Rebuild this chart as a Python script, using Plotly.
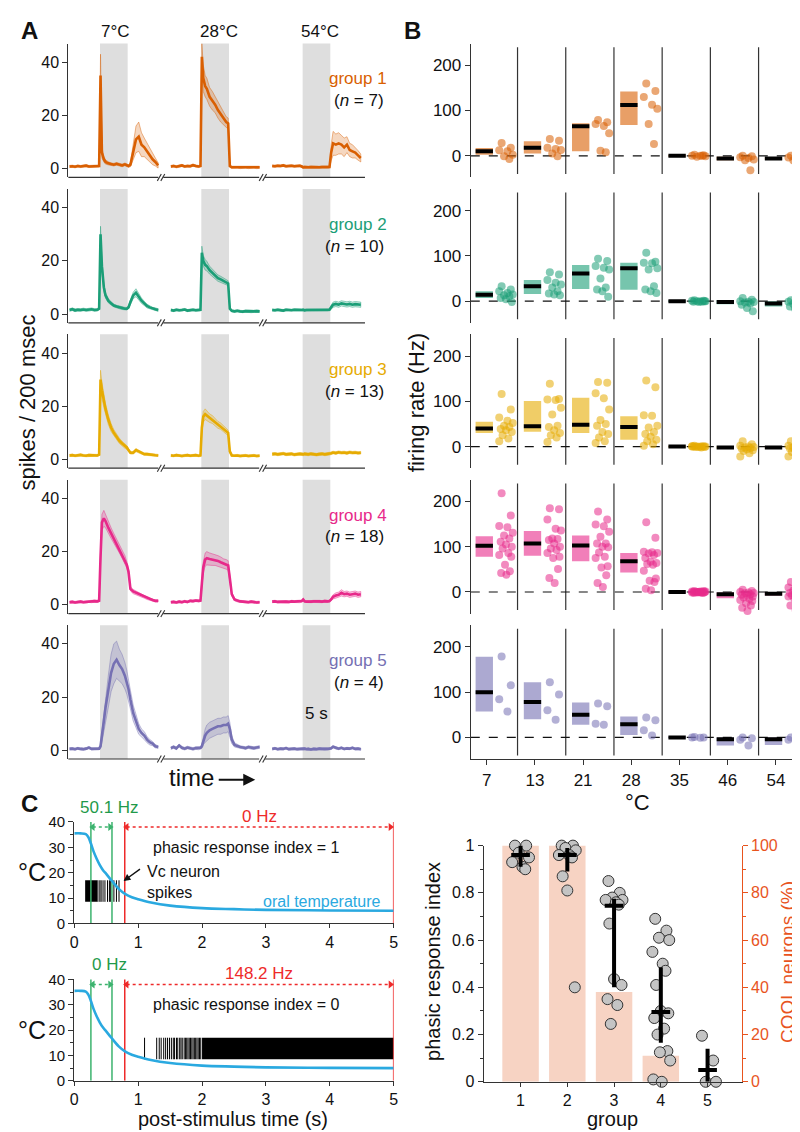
import plotly.graph_objects as go

W, H = 800, 1132
FONT = "Liberation Sans, Arial, Helvetica, sans-serif"


def px(x):
    return x / W


def py(y):
    return 1 - y / H


def sfx(n):
    return "" if n == 1 else str(n)


def rgba(hexc, a):
    h = hexc.lstrip('#')
    return "rgba(%d,%d,%d,%s)" % (int(h[0:2], 16), int(h[2:4], 16), int(h[4:6], 16), a)


# ------------------------------------------------------------------ data A
T = [-5.5, -5, -4.5, -4, -3.5, -3, -2.5, -2, -1.5, -1, -0.5, -0.15, 0.1, 0.35, 0.7, 1, 1.5, 2, 2.5, 3,
     3.5, 4, 4.5, 4.85, 5.15, 5.5, 6, 6.5, 7, 7.5, 8, 8.5, 9, 9.5, 10, 10.5]
SEG_TEMPS = ["7°C", "28°C", "54°C"]
SEG_OFFSET = [0, 18.3, 36.6]
STIM_ON, STIM_OFF = 0, 5
GROUP_LABELS = ["group 1", "group 2", "group 3", "group 4", "group 5"]
GROUP_N = [7, 10, 13, 18, 4]
COLORS = ["#d95f02", "#1b9e77", "#e6ab02", "#e7298a", "#7570b3"]

G1_7_MEAN = [0.8, 0.9, 0.7, 1.0, 0.8, 0.9, 1.1, 0.8, 0.9, 0.8, 1.0, 1.0, 35, 6, 3.5, 2.5, 2.0, 1.6, 1.5, 1.8,
             1.5, 1.2, 1.6, 1.2, 1.0, 1.5, 6, 11, 12, 9, 8, 6.5, 5, 3.5, 2.5, 1.2]
G1_7_SEM = [0.4, 0.4, 0.4, 0.4, 0.4, 0.4, 0.4, 0.4, 0.4, 0.4, 0.4, 0.4, 8, 2, 1, 0.8, 0.6, 0.5, 0.5, 0.5,
            0.5, 0.5, 0.5, 0.5, 0.5, 0.8, 2.5, 5, 5.5, 4.5, 3.5, 3, 2.5, 2, 1.5, 1]
G1_28_MEAN = [0.8, 1.0, 0.7, 0.9, 1.2, 0.8, 1.0, 0.9, 1.3, 1.0, 0.8, 1.0, 42, 34, 31, 30, 27, 25.5, 24, 22,
              20.5, 19, 17.5, 17, 1.0, 0.5, 0.5, 0.6, 0.4, 0.5, 0.6, 0.4, 0.5, 0.6, 0.4, 0.5]
G1_28_SEM = [0.4, 0.4, 0.4, 0.4, 0.4, 0.4, 0.4, 0.4, 0.4, 0.4, 0.4, 0.4, 5, 5, 4, 4, 3.5, 3.5, 3, 3,
             3, 2.5, 2, 2, 0.5, 0.4, 0.4, 0.4, 0.4, 0.4, 0.4, 0.4, 0.4, 0.4, 0.4, 0.4]
G1_54_MEAN = [1.0, 0.9, 1.1, 1.0, 1.2, 0.9, 1.0, 1.1, 0.9, 1.0, 1.1, 0.8, 0.5, 0.6, 0.4, 0.5, 0.6, 0.5, 0.4, 0.5,
              0.6, 0.5, 0.5, 0.6, 6, 9.5, 9, 9.5, 9, 8, 9, 7, 6.5, 6, 5, 4]
G1_54_SEM = [0.4, 0.4, 0.4, 0.4, 0.4, 0.4, 0.4, 0.4, 0.4, 0.4, 0.4, 0.4, 0.4, 0.4, 0.4, 0.4, 0.4, 0.4, 0.4, 0.4,
             0.4, 0.4, 0.4, 0.4, 3, 4.5, 4, 4, 3.5, 3.5, 3, 2.5, 2.5, 2, 1.8, 1.5]

G2_7_MEAN = [1.5, 1.8, 1.4, 1.6, 1.5, 1.7, 1.5, 1.6, 1.8, 1.5, 1.6, 2, 30, 18, 10, 7, 5, 4, 3.2, 2.8,
             2.5, 2.2, 2.0, 2.0, 2.5, 4.5, 7, 8, 6.5, 5, 4, 3, 2.5, 2, 1.8, 1.5]
G2_7_SEM = [0.5, 0.5, 0.5, 0.5, 0.5, 0.5, 0.5, 0.5, 0.5, 0.5, 0.5, 0.5, 3, 2, 1.5, 1, 0.8, 0.6, 0.5, 0.5,
            0.5, 0.5, 0.5, 0.5, 0.5, 0.8, 1.2, 1.5, 1.2, 1, 0.8, 0.7, 0.6, 0.5, 0.5, 0.5]
G2_28_MEAN = [1.5, 1.3, 1.6, 1.4, 1.5, 1.7, 1.3, 1.5, 1.6, 1.4, 1.5, 1.6, 23, 20, 18.5, 18, 16.5, 15.5, 14.5, 13.5,
              13, 12.5, 12, 11.5, 2, 1.2, 1.0, 1.2, 1.0, 0.9, 1.1, 1.0, 0.9, 1.0, 1.1, 1.0]
G2_28_SEM = [0.4, 0.4, 0.4, 0.4, 0.4, 0.4, 0.4, 0.4, 0.4, 0.4, 0.4, 0.4, 2.5, 2, 2, 1.8, 1.5, 1.5, 1.3, 1.2,
             1.2, 1.1, 1.0, 1.0, 0.5, 0.4, 0.4, 0.4, 0.4, 0.4, 0.4, 0.4, 0.4, 0.4, 0.4, 0.4]
G2_54_MEAN = [1.5, 1.4, 1.6, 1.5, 1.3, 1.6, 1.5, 1.4, 1.6, 1.5, 1.4, 1.5, 1.6, 1.4, 1.5, 1.5, 1.6, 1.4, 1.5, 1.6,
              1.4, 1.5, 1.5, 1.6, 2.5, 3.5, 3.8, 3.5, 4.0, 3.7, 3.6, 3.8, 3.5, 3.7, 3.6, 3.5]
G2_54_SEM = [0.4, 0.4, 0.4, 0.4, 0.4, 0.4, 0.4, 0.4, 0.4, 0.4, 0.4, 0.4, 0.4, 0.4, 0.4, 0.4, 0.4, 0.4, 0.4, 0.4,
             0.4, 0.4, 0.4, 0.4, 0.8, 1.0, 1.0, 1.0, 1.0, 1.0, 1.0, 1.0, 1.0, 1.0, 1.0, 1.0]

G3_7_MEAN = [1.5, 1.6, 1.4, 1.5, 1.7, 1.5, 1.4, 1.6, 1.5, 1.6, 1.5, 1.8, 30, 26, 22, 19, 15, 12, 10, 8.5,
             7, 6, 5, 4.5, 3.5, 2.5, 2.5, 3.5, 3, 2.5, 2, 2, 1.8, 1.7, 1.6, 1.5]
G3_7_SEM = [0.4, 0.4, 0.4, 0.4, 0.4, 0.4, 0.4, 0.4, 0.4, 0.4, 0.4, 0.4, 3.5, 3, 2.5, 2, 1.8, 1.5, 1.2, 1,
            1, 0.8, 0.8, 0.7, 0.6, 0.5, 0.5, 0.6, 0.5, 0.5, 0.4, 0.4, 0.4, 0.4, 0.4, 0.4]
G3_28_MEAN = [1.5, 1.4, 1.6, 1.5, 1.3, 1.5, 1.6, 1.4, 1.5, 1.6, 1.4, 1.5, 12, 16, 17, 16.5, 15.5, 15, 14, 13,
              12.5, 11.5, 10.5, 10, 3, 1.5, 1.4, 1.5, 1.3, 1.4, 1.5, 1.3, 1.4, 1.5, 1.3, 1.4]
G3_28_SEM = [0.4, 0.4, 0.4, 0.4, 0.4, 0.4, 0.4, 0.4, 0.4, 0.4, 0.4, 0.4, 2, 2, 2, 1.8, 1.6, 1.5, 1.4, 1.3,
             1.2, 1.1, 1, 1, 0.6, 0.4, 0.4, 0.4, 0.4, 0.4, 0.4, 0.4, 0.4, 0.4, 0.4, 0.4]
G3_54_MEAN = [2.0, 2.1, 1.9, 2.0, 2.2, 1.9, 2.0, 2.1, 1.8, 2.0, 2.1, 2.0, 1.9, 2.1, 2.0, 1.9, 2.1, 2.0, 1.8, 2.0,
              2.1, 1.9, 2.0, 2.1, 2.3, 2.6, 2.4, 2.7, 2.5, 2.6, 2.4, 2.7, 2.5, 2.6, 2.4, 2.5]
G3_54_SEM = [0.5, 0.5, 0.5, 0.5, 0.5, 0.5, 0.5, 0.5, 0.5, 0.5, 0.5, 0.5, 0.5, 0.5, 0.5, 0.5, 0.5, 0.5, 0.5, 0.5,
             0.5, 0.5, 0.5, 0.5, 0.5, 0.5, 0.5, 0.5, 0.5, 0.5, 0.5, 0.5, 0.5, 0.5, 0.5, 0.5]

G4_7_MEAN = [1.0, 1.1, 0.9, 1.0, 1.2, 1.0, 1.1, 1.3, 1.2, 1.4, 1.3, 1.5, 18, 31, 32.5, 31.5, 29, 27, 25, 23,
             21, 19, 17, 15, 12.5, 6, 5, 4.5, 4, 3.5, 3, 2.5, 2, 1.8, 1.5, 1.5]
G4_7_SEM = [0.4, 0.4, 0.4, 0.4, 0.4, 0.4, 0.4, 0.4, 0.4, 0.4, 0.4, 0.4, 2, 3, 3, 2.5, 2, 2, 1.8, 1.8,
            1.5, 1.5, 1.5, 1.2, 1, 0.8, 0.8, 0.7, 0.6, 0.5, 0.5, 0.5, 0.4, 0.4, 0.4, 0.4]
G4_28_MEAN = [1.0, 1.1, 0.9, 1.2, 1.0, 1.3, 1.1, 1.5, 1.4, 1.6, 1.5, 1.6, 8, 14, 17, 17.5, 17.2, 17, 16.8, 16.5,
              16, 15.5, 15.2, 14.8, 10, 4, 2, 1.5, 1.3, 1.2, 1.1, 1.0, 1.2, 1.0, 0.9, 1.0]
G4_28_SEM = [0.4, 0.4, 0.4, 0.4, 0.4, 0.4, 0.4, 0.4, 0.4, 0.4, 0.4, 0.4, 1.5, 2, 2.5, 2.5, 2.3, 2.2, 2.0, 2.0,
             2.0, 1.8, 1.8, 1.8, 1.2, 0.7, 0.5, 0.4, 0.4, 0.4, 0.4, 0.4, 0.4, 0.4, 0.4, 0.4]
G4_54_MEAN = [1.2, 1.3, 1.1, 1.2, 1.3, 1.2, 1.1, 1.3, 1.2, 1.3, 1.2, 1.4, 2.0, 1.3, 1.2, 1.3, 1.2, 1.3, 1.4, 1.3,
              1.2, 1.4, 1.3, 1.4, 2.0, 3.0, 3.5, 3.8, 4.5, 4.0, 4.2, 3.8, 4.0, 4.2, 3.8, 4.0]
G4_54_SEM = [0.4, 0.4, 0.4, 0.4, 0.4, 0.4, 0.4, 0.4, 0.4, 0.4, 0.4, 0.4, 0.4, 0.4, 0.4, 0.4, 0.4, 0.4, 0.4, 0.4,
             0.4, 0.4, 0.4, 0.4, 0.6, 0.8, 1.0, 1.0, 1.2, 1.0, 1.0, 1.0, 1.0, 1.0, 1.0, 1.0]

G5_7_MEAN = [0.5, 0.6, 0.4, 0.7, 0.5, 0.4, 0.6, 1.0, 0.5, 0.6, 0.5, 0.6, 1.5, 5, 11, 16, 22, 29, 32.5, 34,
             32, 30.5, 28, 25.5, 23, 19, 14, 11, 8, 6.5, 5.5, 4, 3, 2.5, 1.5, 1.2]
G5_7_SEM = [0.4, 0.4, 0.4, 0.4, 0.4, 0.4, 0.4, 0.4, 0.4, 0.4, 0.4, 0.4, 0.8, 2, 4, 5, 6, 7, 7.5, 7,
            6, 5.5, 5, 4.5, 4, 3.5, 3, 2.5, 2, 1.5, 1.5, 1.2, 1, 0.8, 0.6, 0.5]
G5_28_MEAN = [0.8, 1.2, 0.7, 1.8, 0.9, 0.6, 1.0, 0.8, 0.5, 0.8, 0.7, 0.9, 1.5, 3.5, 5.5, 6.5, 7.5, 8, 8.5, 9,
              9, 9.5, 9.5, 10, 8, 4, 2, 1.5, 1.2, 1.0, 0.8, 1.2, 0.9, 0.8, 1.0, 1.2]
G5_28_SEM = [0.5, 0.5, 0.5, 0.5, 0.5, 0.5, 0.5, 0.5, 0.5, 0.5, 0.5, 0.5, 0.8, 1.5, 2.5, 3, 3, 3, 3, 3,
             3, 3, 3, 3, 2.5, 1.5, 0.8, 0.6, 0.5, 0.5, 0.5, 0.5, 0.5, 0.5, 0.5, 0.5]
G5_54_MEAN = [0.5, 0.7, 0.4, 0.6, 0.5, 0.8, 0.4, 0.5, 0.6, 0.4, 0.5, 0.4, 0.5, 0.6, 0.4, 0.5, 0.3, 0.5, 0.4, 0.6,
              0.5, 0.4, 0.5, 0.6, 0.7, 1.3, 0.8, 0.6, 0.9, 0.5, 0.7, 0.6, 0.9, 0.5, 0.6, 0.4]
G5_54_SEM = [0.4, 0.4, 0.4, 0.4, 0.4, 0.4, 0.4, 0.4, 0.4, 0.4, 0.4, 0.4, 0.4, 0.4, 0.4, 0.4, 0.4, 0.4, 0.4, 0.4,
             0.4, 0.4, 0.4, 0.4, 0.4, 0.4, 0.4, 0.4, 0.4, 0.4, 0.4, 0.4, 0.4, 0.4, 0.4, 0.4]

PSTH_MEAN = [[G1_7_MEAN, G1_28_MEAN, G1_54_MEAN], [G2_7_MEAN, G2_28_MEAN, G2_54_MEAN],
             [G3_7_MEAN, G3_28_MEAN, G3_54_MEAN], [G4_7_MEAN, G4_28_MEAN, G4_54_MEAN],
             [G5_7_MEAN, G5_28_MEAN, G5_54_MEAN]]
PSTH_SEM = [[G1_7_SEM, G1_28_SEM, G1_54_SEM], [G2_7_SEM, G2_28_SEM, G2_54_SEM],
            [G3_7_SEM, G3_28_SEM, G3_54_SEM], [G4_7_SEM, G4_28_SEM, G4_54_SEM],
            [G5_7_SEM, G5_28_SEM, G5_54_SEM]]

# ------------------------------------------------------------------ data B
B_TEMPS = ["7", "13", "21", "28", "35", "46", "54"]

G1_MED = [10, 18, 65, 112, 0, -6, -6]
G1_LO = [2, 5, 10, 68, -2, -10, -9]
G1_HI = [17, 32, 72, 142, 2, -2, -3]
G1_DOTS = [[28, 18, 12, 10, 2, -1, -7], [37, 33, 18, 15, 13, 5, -1], [79, 74, 70, 66, 50, 11, 8],
           [160, 143, 130, 113, 104, 70, 26], [2, 1, 0, 0, -1, -2, 0], [0, -1, -3, -5, -8, -10, -32],
           [0, -2, -4, -6, -8, -10, -32]]
G2_MED = [14, 33, 61, 73, 0, -2, -5]
G2_LO = [7, 16, 27, 25, -2, -7, -12]
G2_HI = [22, 47, 80, 85, 2, 2, 0]
G2_DOTS = [[33, 26, 22, 18, 15, 13, 11, 7, 4, -2], [64, 59, 47, 41, 37, 30, 22, 17, 15, 13],
           [94, 89, 78, 74, 70, 50, 30, 26, 22, 10], [107, 87, 85, 84, 73, 70, 33, 26, 22, 18],
           [2, 1, 1, 0, 0, 0, -1, -1, -2, 0], [7, 3, 0, -1, -2, -3, -5, -8, -15, -22],
           [2, 0, -1, -2, -4, -6, -9, -12, -17, -22]]
G3_MED = [40, 45, 48, 43, 0, -2, -2]
G3_LO = [30, 33, 30, 15, -2, -4, -4]
G3_HI = [55, 101, 108, 67, 2, 1, 0]
G3_DOTS = [[116, 82, 64, 57, 52, 46, 43, 39, 36, 32, 25, 18, 12],
           [139, 105, 104, 103, 86, 71, 46, 43, 36, 30, 25, 20, 10],
           [143, 141, 118, 107, 82, 59, 50, 46, 32, 28, 20, 12, 8],
           [146, 131, 69, 68, 46, 42, 32, 28, 22, 15, 12, 5, 2],
           [2, 1, 1, 0, 0, 0, 0, 0, -1, -1, -1, -2, 0],
           [12, 5, 2, 0, -1, -2, -3, -4, -6, -8, -10, -15, -22],
           [12, 5, 2, 0, -1, -2, -3, -4, -6, -8, -12, -15, -22]]
G4_MED = [102, 107, 103, 68, 0, -5, -4]
G4_LO = [78, 80, 68, 43, -2, -14, -8]
G4_HI = [123, 135, 125, 86, 2, -1, 0]
G4_DOTS = [[218, 169, 146, 143, 131, 125, 118, 111, 105, 100, 96, 86, 82, 78, 60, 46, 42, 38],
           [185, 183, 160, 140, 136, 118, 117, 115, 107, 100, 96, 93, 86, 78, 75, 51, 31, 20],
           [178, 160, 149, 145, 133, 122, 107, 107, 100, 99, 87, 78, 75, 57, 54, 37, 20, 11],
           [154, 120, 89, 88, 86, 85, 82, 75, 67, 64, 62, 60, 47, 30, 25, 22, 7, 4],
           [2, 2, 1, 1, 1, 0, 0, 0, 0, 0, 0, -1, -1, -1, -1, -2, -2, 0],
           [5, 2, 0, -1, -2, -3, -5, -6, -8, -10, -12, -15, -18, -20, -25, -30, -35, -42],
           [22, 15, 10, 8, 5, 3, 0, -2, -3, -5, -7, -8, -10, -12, -15, -25, -30, -40]]
G5_MED = [100, 78, 50, 29, 0, -4, -4]
G5_LO = [57, 40, 28, 5, -2, -18, -17]
G5_HI = [178, 122, 77, 46, 2, 0, 0]
G5_DOTS = [[179, 115, 84, 57], [122, 95, 60, 39], [75, 69, 30, 28], [44, 38, 16, 4], [1, 0, 0, -1],
           [0, -2, -5, -18], [0, -2, -5, -18]]

B_MED = [G1_MED, G2_MED, G3_MED, G4_MED, G5_MED]
B_LO = [G1_LO, G2_LO, G3_LO, G4_LO, G5_LO]
B_HI = [G1_HI, G2_HI, G3_HI, G4_HI, G5_HI]
B_DOTS = [G1_DOTS, G2_DOTS, G3_DOTS, G4_DOTS, G5_DOTS]

# ------------------------------------------------------------------ data C (left)
TEMP_T = [0, 0.1, 0.18, 0.22, 0.26, 0.3, 0.35, 0.4, 0.45, 0.5, 0.58, 0.7, 0.8, 0.9, 1.0, 1.2, 1.5, 2.0, 2.5,
          3, 4, 5]
TEMP_C = [35.5, 35.5, 35.2, 34, 31.5, 28.5, 25.5, 23, 21, 19.5, 17, 13.5, 11.5, 10.3, 9.5, 8.2, 7.0, 6.0, 5.6,
          5.3, 5.1, 5.0]
EARLY_WIN = [0.26, 0.59]
LATE_WIN = [0.79, 5.0]
RASTER_Y = [8.5, 17]
TRIAL1_BURSTS = [[0.17, 0.36]]
TRIAL1_SPIKES = [0.37, 0.40, 0.42, 0.45, 0.48, 0.52, 0.55, 0.57, 0.62, 0.66, 0.70]
TRIAL2_BURSTS = [[2.0, 5.0]]
TRIAL2_SPIKES = [1.10, 1.29, 1.33, 1.36, 1.40, 1.43, 1.46, 1.49, 1.52, 1.55, 1.57, 1.60, 1.62, 1.65, 1.67,
                 1.69, 1.72, 1.74, 1.76, 1.78, 1.80, 1.82, 1.84, 1.86, 1.88, 1.90, 1.92, 1.94, 1.96, 1.98]
EARLY_RATE = ["50.1 Hz", "0 Hz"]
LATE_RATE = ["0 Hz", "148.2 Hz"]
PRI_EXAMPLE = [1, 0]

# ------------------------------------------------------------------ data C (right)
GROUPS = [1, 2, 3, 4, 5]
COOL_PCT = [100, 100, 38, 11, 0]
PRI_G1 = [1.0, 1.0, 0.97, 0.95, 0.93, 0.91, 0.90]
PRI_G2 = [1.0, 1.0, 0.99, 0.98, 0.96, 0.96, 0.95, 0.87, 0.81, 0.40]
PRI_G3 = [0.85, 0.80, 0.78, 0.77, 0.77, 0.76, 0.75, 0.67, 0.435, 0.41, 0.35, 0.325, 0.245]
PRI_G4 = [0.69, 0.64, 0.61, 0.60, 0.55, 0.50, 0.47, 0.41, 0.30, 0.29, 0.27, 0.225, 0.20, 0.13, 0.125, 0.09,
          0.01, 0.0]
PRI_G5 = [0.195, 0.09, 0.0, 0.0]
PRI_MED = [0.96, 0.96, 0.745, 0.295, 0.05]
PRI_LO = [0.91, 0.89, 0.40, 0.165, 0.0]
PRI_HI = [1.0, 0.99, 0.775, 0.485, 0.14]
PRI_ALL = [PRI_G1, PRI_G2, PRI_G3, PRI_G4, PRI_G5]

# ================================================================== figure
fig = go.Figure()
layout = {}
shapes = []
ann = []

ROW_TOP = [27 + r * 147.75 for r in range(5)]
ROW_H = 136
AXC = "#333333"


def note(x, y, text, size=17, color="#111", xanchor="center", yanchor="middle", **kw):
    d = dict(x=px(x), y=py(y), xref="paper", yref="paper", text=text, showarrow=False,
             xanchor=xanchor, yanchor=yanchor, font=dict(size=size, color=color, family=FONT))
    d.update(kw)
    ann.append(d)


def yax(**kw):
    d = dict(showgrid=False, zeroline=False, showline=True, linecolor=AXC, linewidth=1.2,
             ticks="outside", ticklen=5, tickwidth=1.2, tickcolor=AXC,
             tickfont=dict(size=16, color="#111", family=FONT))
    d.update(kw)
    return d


# ---------------- Panel A
for r in range(5):
    n = r + 1
    xa, ya = "x" + sfx(n), "y" + sfx(n)
    top, bot = ROW_TOP[r], ROW_TOP[r] + ROW_H
    layout["xaxis" + sfx(n)] = dict(domain=[px(57), px(357)], range=[-5.71, 47.86], visible=False, anchor=ya)
    layout["yaxis" + sfx(n)] = yax(domain=[py(bot), py(top)], range=[-3.3, 47], tickvals=[0, 20, 40], anchor=xa)
    col = COLORS[r]
    for k in range(3):
        off = SEG_OFFSET[k]
        shapes.append(dict(type="rect", xref=xa, yref=ya + " domain", x0=off + STIM_ON,
                           x1=off + STIM_OFF, y0=0, y1=1, fillcolor="#dedede", line=dict(width=0),
                           layer="below"))
        mean = PSTH_MEAN[r][k]
        sem = PSTH_SEM[r][k]
        xs = [t + off for t in T]
        up = [m + s for m, s in zip(mean, sem)]
        lo = [m - s for m, s in zip(mean, sem)]
        fig.add_trace(go.Scatter(x=xs + xs[::-1], y=up + lo[::-1], fill="toself",
                                 fillcolor=rgba(col, 0.25), line=dict(color=rgba(col, 0.55), width=0.8),
                                 mode="lines", hoverinfo="skip", xaxis=xa, yaxis=ya))
        fig.add_trace(go.Scatter(x=xs, y=mean, mode="lines", line=dict(color=col, width=2.6),
                                 xaxis=xa, yaxis=ya))
    for a, b in [(57, 148), (153, 250), (256, 357)]:
        shapes.append(dict(type="line", xref="paper", yref="paper", x0=px(a), x1=px(b), y0=py(bot),
                           y1=py(bot), line=dict(color=AXC, width=1.2)))
    for bx in (147, 250):
        for d in (0, 3.5):
            shapes.append(dict(type="line", xref="paper", yref="paper", x0=px(bx + d), x1=px(bx + d + 4),
                               y0=py(bot + 3.5), y1=py(bot - 3.5), line=dict(color=AXC, width=1.1)))
    note(381, top + 36, GROUP_LABELS[r], color=col, xanchor="right")
    note(378, top + 58, "(<i>n</i> = %d)" % GROUP_N[r], xanchor="right")

for k, xc in enumerate([105, 209, 312]):
    note(xc, 15, SEG_TEMPS[k])
note(308, 708, "5 s")
note(182, 773, "time", size=24)
ann.append(dict(x=px(246), y=py(775), ax=-38, ay=0, xref="paper", yref="paper",
                text="", showarrow=True, arrowhead=2, arrowsize=1.2, arrowwidth=2, arrowcolor="#111"))
note(16, 392, "spikes / 200 msec", size=22, textangle=-90)

# ---------------- Panel B
BOX_OFF, BOX_W, DOT_OFF = -0.05, 0.36, 0.4
JIT = [-0.09, 0.1, -0.14, 0.03, 0.14, -0.04, 0.07, -0.11, 0.0, 0.12, -0.07, 0.05, -0.14, 0.11, -0.02, 0.08,
       -0.1, 0.01]
for r in range(5):
    n = 6 + r
    xa, ya = "x" + sfx(n), "y" + sfx(n)
    top, bot = ROW_TOP[r], ROW_TOP[r] + ROW_H
    xd = dict(domain=[px(464), px(797)], range=[-0.33, 6.5], showgrid=False, zeroline=False, anchor=ya)
    if r == 4:
        xd.update(showline=True, linecolor=AXC, linewidth=1.2, ticks="outside", ticklen=5, tickcolor=AXC,
                  tickvals=list(range(7)), ticktext=B_TEMPS, tickfont=dict(size=17, color="#111", family=FONT))
    else:
        xd.update(showline=False, showticklabels=False, ticks="")
    layout["xaxis" + sfx(n)] = xd
    layout["yaxis" + sfx(n)] = yax(domain=[py(bot), py(top)], range=[-47.8, 248], tickvals=[0, 100, 200],
                                   anchor=xa, tickfont=dict(size=17, color="#111", family=FONT))
    col = COLORS[r]
    sx, sy = [], []
    for i in range(6):
        sx += [i + 0.64, i + 0.64, None]
        sy += [-40, 240, None]
    fig.add_trace(go.Scatter(x=sx, y=sy, mode="lines", line=dict(color=AXC, width=1.2), xaxis=xa, yaxis=ya))
    fig.add_trace(go.Scatter(x=[-0.33, 6.5], y=[0, 0], mode="lines",
                             line=dict(color="#111", width=1.2, dash="dash"), xaxis=xa, yaxis=ya))
    fig.add_trace(go.Bar(x=[i + BOX_OFF for i in range(7)],
                         y=[h - l for h, l in zip(B_HI[r], B_LO[r])], base=B_LO[r], width=BOX_W,
                         marker=dict(color=rgba(col, 0.6), line=dict(width=0)), xaxis=xa, yaxis=ya))
    mx, my = [], []
    for i in range(7):
        mx += [i + BOX_OFF - BOX_W / 2, i + BOX_OFF + BOX_W / 2, None]
        my += [B_MED[r][i], B_MED[r][i], None]
    fig.add_trace(go.Scatter(x=mx, y=my, mode="lines", line=dict(color="#000", width=4), xaxis=xa, yaxis=ya))
    dx, dy = [], []
    for i in range(7):
        for j, v in enumerate(B_DOTS[r][i]):
            dx.append(i + DOT_OFF + JIT[j % len(JIT)])
            dy.append(v)
    fig.add_trace(go.Scatter(x=dx, y=dy, mode="markers",
                             marker=dict(color=rgba(col, 0.55), size=8, line=dict(width=0)),
                             xaxis=xa, yaxis=ya, cliponaxis=False))

note(633, 798, "°C", size=22)
note(409, 392, "firing rate (Hz)", size=22, textangle=-90)

# ---------------- Panel C left
GREEN = "#3cb36e"
GREEN_T = "#1f9a4a"
RED = "#ee2a2a"
BLUE = "#2aa9e0"
for idx, (n, top) in enumerate([(11, 818), (12, 978)]):
    bot = top + 103
    xa, ya = "x%d" % n, "y%d" % n
    layout["xaxis%d" % n] = dict(domain=[px(63), px(386)], range=[0, 5], showgrid=False, zeroline=False,
                                 showline=True, linecolor=AXC, linewidth=1.2, ticks="outside", ticklen=4,
                                 tickcolor=AXC, tickvals=[0, 1, 2, 3, 4, 5], anchor=ya,
                                 tickfont=dict(size=16, color="#111", family=FONT))
    layout["yaxis%d" % n] = yax(domain=[py(bot), py(top)], range=[0, 40], tickvals=[0, 10, 20, 30, 40],
                                anchor=xa, tickfont=dict(size=15, color="#111", family=FONT),
                                minor=dict(dtick=5, ticks="outside", ticklen=3, tickcolor=AXC))
    bursts = TRIAL1_BURSTS if idx == 0 else TRIAL2_BURSTS
    spikes = TRIAL1_SPIKES if idx == 0 else TRIAL2_SPIKES
    for a, b in bursts:
        fig.add_trace(go.Scatter(x=[a, b, b, a, a],
                                 y=[RASTER_Y[0], RASTER_Y[0], RASTER_Y[1], RASTER_Y[1], RASTER_Y[0]],
                                 fill="toself", fillcolor="#000", line=dict(width=0), mode="lines",
                                 xaxis=xa, yaxis=ya))
    rx, ry = [], []
    for s in spikes:
        rx += [s, s, None]
        ry += [RASTER_Y[0], RASTER_Y[1], None]
    fig.add_trace(go.Scatter(x=rx, y=ry, mode="lines", line=dict(color="#000", width=1), xaxis=xa, yaxis=ya))
    for wins, c in [(EARLY_WIN, GREEN), (LATE_WIN, RED)]:
        vx, vy = [], []
        for w in wins:
            vx += [w, w, None]
            vy += [0, 42, None]
        fig.add_trace(go.Scatter(x=vx, y=vy, mode="lines", line=dict(color=c, width=1.5), xaxis=xa, yaxis=ya,
                                 cliponaxis=False))
    fig.add_trace(go.Scatter(x=TEMP_T, y=TEMP_C, mode="lines", line=dict(color=BLUE, width=2.6, shape="spline"),
                             xaxis=xa, yaxis=ya))
    for (a, b), c in [((EARLY_WIN[0] + 0.03, EARLY_WIN[1] - 0.03), GREEN),
                      ((LATE_WIN[0] + 0.03, LATE_WIN[1] - 0.05), RED)]:
        fig.add_trace(go.Scatter(x=[a, b], y=[38, 38], mode="lines+markers",
                                 line=dict(color=c, width=1.6, dash="dot"),
                                 marker=dict(symbol=["triangle-left", "triangle-right"], size=7, color=c),
                                 xaxis=xa, yaxis=ya, cliponaxis=False))
    note(99, top - 15, EARLY_RATE[idx], color=GREEN_T)
    note(250, top - 6, LATE_RATE[idx], color=RED)
    ann.append(dict(x=2.69, y=30.0, xref=xa, yref=ya, text="phasic response index = %d" % PRI_EXAMPLE[idx],
                    showarrow=False, font=dict(size=16, color="#111", family=FONT)))
    note(20, top + 51, "°C", size=25)

ann.append(dict(x=0.77, y=16.7, xref="x11", yref="y11", ax=18, ay=-13, text="", showarrow=True, arrowhead=2,
                arrowsize=1, arrowwidth=1.4, arrowcolor="#111"))
ann.append(dict(x=1.1, y=16.3, xref="x11", yref="y11", text="Vc neuron<br>spikes", showarrow=False,
                xanchor="left", yanchor="middle", align="left", font=dict(size=16, color="#111", family=FONT)))
ann.append(dict(x=3.87, y=8.6, xref="x11", yref="y11", text="oral temperature", showarrow=False,
                font=dict(size=16, color=BLUE, family=FONT)))
note(224, 1120, "post-stimulus time (s)", size=20)

# ---------------- Panel C right
ORANGE = "#e8541e"
layout["xaxis13"] = dict(domain=[px(477), px(738)], range=[0.21, 5.73], showgrid=False, zeroline=False,
                         showline=True, linecolor=AXC, linewidth=1.2, ticks="outside", ticklen=4, tickcolor=AXC,
                         tickvals=GROUPS, anchor="y13", tickfont=dict(size=16, color="#111", family=FONT))
layout["yaxis13"] = dict(domain=[py(1082), py(842)], range=[0, 100], side="right", anchor="x13",
                         showgrid=False, zeroline=False, showline=True, linecolor=ORANGE, linewidth=1.2,
                         ticks="outside", ticklen=5, tickcolor=ORANGE, tickvals=[0, 20, 40, 60, 80, 100],
                         tickfont=dict(size=16, color=ORANGE, family=FONT),
                         minor=dict(dtick=10, ticks="outside", ticklen=3, tickcolor=ORANGE))
layout["yaxis14"] = yax(range=[0, 1], overlaying="y13", side="left", anchor="x13",
                        tickvals=[0, 0.2, 0.4, 0.6, 0.8, 1], ticktext=["0", "0.2", "0.4", "0.6", "0.8", "1"],
                        tickfont=dict(size=16, color="#111", family=FONT),
                        minor=dict(dtick=0.1, ticks="outside", ticklen=3, tickcolor=AXC))
fig.add_trace(go.Bar(x=GROUPS, y=COOL_PCT, width=0.78, marker=dict(color="#f7d3c3", line=dict(width=0)),
                     xaxis="x13", yaxis="y13"))
PJ = [-0.12, 0.12, -0.04, 0.18, -0.18, 0.04, 0.1, -0.1, 0.0, 0.16, -0.14, 0.07, -0.07, 0.14, -0.02, 0.2,
      -0.16, 0.02]
for g, vals in zip(GROUPS, PRI_ALL):
    fig.add_trace(go.Scatter(x=[g + PJ[j % len(PJ)] for j in range(len(vals))], y=vals, mode="markers",
                             marker=dict(size=11, color="#c4c4c4", line=dict(color="#333", width=1)),
                             xaxis="x13", yaxis="y14", cliponaxis=False))
ex, ey = [], []
for g, m, lo, hi in zip(GROUPS, PRI_MED, PRI_LO, PRI_HI):
    ex += [g - 0.2, g + 0.2, None, g, g, None]
    ey += [m, m, None, lo, hi, None]
fig.add_trace(go.Scatter(x=ex, y=ey, mode="lines", line=dict(color="#000", width=4), xaxis="x13", yaxis="y14",
                         cliponaxis=False))
note(607, 1120, "group", size=20)
note(426, 960, "phasic response index", size=20, textangle=-90)
note(785, 960, "COOL neurons (%)", size=19, color=ORANGE, textangle=-90)

for t, x, y in [("A", 18, 14), ("B", 405, 14), ("C", 18, 799)]:
    note(x, y, "<b>%s</b>" % t, size=24)

fig.update_layout(width=W, height=H, margin=dict(l=0, r=0, t=0, b=0), showlegend=False,
                  paper_bgcolor="white", plot_bgcolor="white", barmode="overlay",
                  font=dict(family=FONT, color="#111"), shapes=shapes, annotations=ann, **layout)
fig.write_html("out.html")
